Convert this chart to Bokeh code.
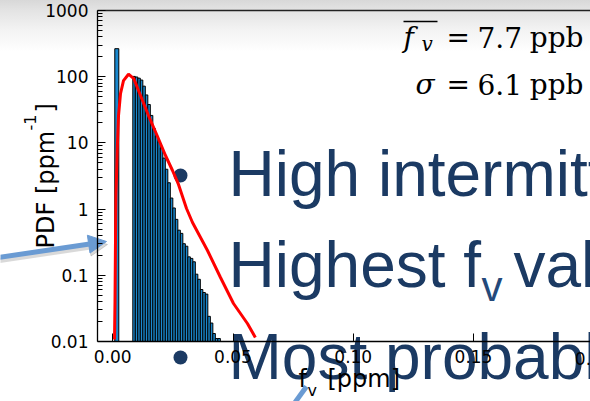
from math import pi

from bokeh.embed import file_html
from bokeh.models import (Arrow, BoxAnnotation, FixedTicker, Label, NormalHead,
                          Range1d)
from bokeh.plotting import figure
from bokeh.resources import INLINE

# ---- histogram of the soot volume fraction f_v (ppm), PDF in ppm^-1 ----
spike_edges = [0.00085, 0.00252]          # isolated first bin
spike_pdf = 265.0
bin_start = 0.00834                       # left edge of the main block of bins
bin_width = 0.00104
pdf = [101, 99, 95, 89, 72, 53, 38, 26, 16.5, 12.8, 10.4, 8.4, 5.9, 4.0,
       2.5, 1.47, 1.04, 0.70, 0.48, 0.43, 0.30, 0.275, 0.19, 0.18, 0.16,
       0.104, 0.087, 0.061, 0.055, 0.052, 0.024, 0.019, 0.0132, 0.0111, 0.0111]

# ---- model distribution (red curve) ----
curve_fv = [0.00073, 0.00094, 0.00114, 0.00135, 0.00185, 0.00239, 0.00322,
            0.00447, 0.00655, 0.00875, 0.01154, 0.01486, 0.01861, 0.02193,
            0.02484, 0.02734, 0.03067, 0.03316, 0.03939, 0.0448, 0.0502,
            0.0560, 0.0593]
curve_pdf = [0.0107, 0.0404, 0.327, 1.63, 7.57, 25.6, 55.2, 87, 109, 93.5,
             52, 25.9, 12.5, 6.45, 3.83, 2.36, 1.02, 0.628, 0.237, 0.0927,
             0.0375, 0.0187, 0.0115]

# ---- axes ----
y_ticks = [0.01, 0.1, 1, 10, 100, 1000]
y_tick_labels = ["0.01", "0.1", "1", "10", "100", "1000"]
x_ticks = [0.0, 0.05, 0.10, 0.15, 0.20]
x_tick_labels = ["0.00", "0.05", "0.10", "0.15", "0.20"]

# ---- statistics and slide bullets ----
mean_value, sigma_value, unit = "7.7", "6.1", "ppb"
bullet_1 = "High intermittency"
bullet_2a, bullet_2b, bullet_2c = "Highest f", "v", "values"
bullet_3 = "Most probable"

NAVY = "#1b3a63"
ARROW_BLUE = "#6a9bd3"
BAR_BLUE = "#1a88cd"
AXIS_FONT = "DejaVu Sans"
SERIF = "DejaVu Serif"
SLIDE_FONT = "Liberation Sans"

W, H = 590, 401
# page geometry: the plotting frame fills the whole canvas, the axes are pinned
X_ZERO_PX, PX_PER_UNIT = 112.25, 2405.0       # f_v = 0 column, pixels per ppm
TOP_PX, PX_PER_DECADE = 10.0, 66.2            # PDF = 1000 row, pixels per decade
AXIS_LEFT_PX = 97.0

x_lo = (0 - X_ZERO_PX) / PX_PER_UNIT
x_hi = (W - X_ZERO_PX) / PX_PER_UNIT
y_lo = 10 ** (3 - (H - TOP_PX) / PX_PER_DECADE)
y_hi = 10 ** (3 + TOP_PX / PX_PER_DECADE)
x_axis_left = (AXIS_LEFT_PX - X_ZERO_PX) / PX_PER_UNIT

p = figure(width=W, height=H, title=None,
           x_range=Range1d(x_lo, x_hi), y_range=Range1d(y_lo, y_hi),
           y_axis_type="log", output_backend="svg", toolbar_location=None,
           min_border=0)
p.border_fill_color = None
p.background_fill_color = None
p.outline_line_color = None
p.xgrid.visible = False
p.ygrid.visible = False
p.styles = {"background": "linear-gradient(to bottom, #d8d8d8 0px, #e3e3e3 10px, "
                          "#f3f3f3 30px, #ffffff 52px)"}


def sx(px):
    return px


def sy(py):
    return H - py


def text_label(text, px, py, size, color=NAVY, font=SLIDE_FONT, style="normal",
               align="left", angle=0.0, level="annotation", x_data=None):
    """Place a text with its baseline at canvas pixel (px, py)."""
    shift = 0.36 * size                      # baseline -> middle of the text box
    if angle:
        px, cy = px - shift, py
    else:
        cy = py - shift
    kw = dict(x=x_data, x_units="data") if x_data is not None else dict(x=sx(px), x_units="screen")
    p.add_layout(Label(y=sy(cy), y_units="screen", text=text, text_font=font,
                       text_font_size=f"{size}px", text_font_style=style,
                       text_color=color, text_align=align, text_baseline="middle",
                       angle=angle, level=level, **kw))


def bullet_dot(cx, cy, r=7):
    p.add_layout(BoxAnnotation(left=sx(cx - r), right=sx(cx + r), top=sy(cy - r),
                               bottom=sy(cy + r), left_units="screen",
                               right_units="screen", top_units="screen",
                               bottom_units="screen", fill_color=NAVY, fill_alpha=1,
                               line_color=None, border_radius=r, level="underlay"))


# slide bullets lying underneath the chart
bullet_dot(180, 175)
text_label(bullet_1, 228, 197, 64, level="underlay")
bullet_dot(180, 266)
text_label(bullet_2a, 228, 288, 64, level="underlay")
text_label(bullet_2b, 481, 301, 42, color="#24497a", level="underlay")
text_label(bullet_2c, 513, 288, 64, level="underlay")
bullet_dot(180, 357)
text_label(bullet_3, 228, 380, 64, level="underlay")

# callout arrows of the slide
for dx, dy, col, alpha in [(1, 3, "#808080", 0.3), (0, 0, ARROW_BLUE, 1.0)]:
    p.add_layout(Arrow(x_start=sx(-2 + dx), y_start=sy(257 + dy),
                       x_end=sx(106 + dx), y_end=sy(241 + dy),
                       start_units="screen", end_units="screen",
                       line_color=col, line_alpha=alpha, line_width=5,
                       end=NormalHead(size=18, fill_color=col, fill_alpha=alpha,
                                      line_color=col, line_alpha=alpha),
                       level="underlay"))
p.add_layout(Arrow(x_start=sx(293), y_start=sy(404), x_end=sx(306), y_end=sy(386),
                   start_units="screen", end_units="screen", end=None,
                   line_color=ARROW_BLUE, line_width=5, level="underlay"))

# histogram bars
lefts = [spike_edges[0]] + [bin_start + i * bin_width for i in range(len(pdf))]
rights = [spike_edges[1]] + [bin_start + (i + 1) * bin_width for i in range(len(pdf))]
tops = [spike_pdf] + pdf
p.quad(left=lefts, right=rights, top=tops, bottom=y_ticks[0],
       fill_color=BAR_BLUE, line_color="black", line_width=1)

# distribution curve
p.line(curve_fv, curve_pdf, line_color="#ff0000", line_width=3)

# top edge of the plot box
p.segment(x0=[x_axis_left], y0=[y_ticks[-1]], x1=[x_hi], y1=[y_ticks[-1]],
          line_color="#222222", line_width=1.5)

# axes pinned inside the canvas
minor = [m * 10.0 ** e for e in range(-2, 3) for m in range(2, 10)]
ya = p.yaxis[0]
ya.ticker = FixedTicker(ticks=y_ticks, minor_ticks=minor)
ya.major_label_overrides = dict(zip(y_ticks, y_tick_labels))
ya.fixed_location = x_axis_left
ya.bounds = (y_ticks[0], y_ticks[-1])
xa = p.xaxis[0]
xa.ticker = FixedTicker(ticks=x_ticks, minor_ticks=[])
xa.major_label_overrides = dict(zip(x_ticks, x_tick_labels))
xa.fixed_location = y_ticks[0]
xa.bounds = (x_axis_left, x_hi)
for ax in (xa, ya):
    ax.axis_line_color = "black"
    ax.axis_line_width = 1.3
    ax.major_tick_in = 8
    ax.major_tick_out = 0
    ax.minor_tick_in = 5
    ax.minor_tick_out = 0
    ax.major_tick_line_color = "black"
    ax.minor_tick_line_color = "black"
    ax.major_label_text_font = AXIS_FONT
    ax.major_label_text_font_size = "17px"
    ax.major_label_text_color = "black"
ya.major_label_standoff = 9
xa.major_label_standoff = 8

# tick labels whose tick falls just past the right edge
for tick, lab in zip(x_ticks, x_tick_labels):
    if tick > x_hi:
        text_label(lab, 0, 364, 17, color="black", font=AXIS_FONT, align="center",
                   x_data=tick)

# axis titles
text_label("PDF [ppm", 54, 248, 24, color="black", font=AXIS_FONT, angle=pi / 2)
text_label("-1", 35, 130, 16, color="black", font=AXIS_FONT, angle=pi / 2)
text_label("]", 54, 112, 24, color="black", font=AXIS_FONT, angle=pi / 2)
text_label("f", 298, 387, 24, color="black", font=AXIS_FONT)
text_label("v", 307, 396, 16, color="black", font=AXIS_FONT)
text_label("[ppm]", 327, 387, 24, color="black", font=AXIS_FONT)

# mean and standard deviation
text_label("f", 403, 47, 28, color="black", font=SERIF, style="italic")
text_label("v", 421, 51, 20, color="black", font=SERIF, style="italic")
p.add_layout(Arrow(x_start=sx(403), y_start=sy(21), x_end=sx(437), y_end=sy(21),
                   start_units="screen", end_units="screen", end=None,
                   line_color="black", line_width=1.5))
text_label("σ", 415, 94, 28, color="black", font=SERIF, style="italic")
for value, base in [(mean_value, 47), (sigma_value, 94)]:
    text_label("=", 446, base, 28, color="black", font=SERIF)
    text_label(value, 477, base, 28, color="black", font=SERIF)
    text_label(unit, 583, base, 28, color="black", font=SERIF, align="right")

open("out.html", "w").write(file_html(p, INLINE))
